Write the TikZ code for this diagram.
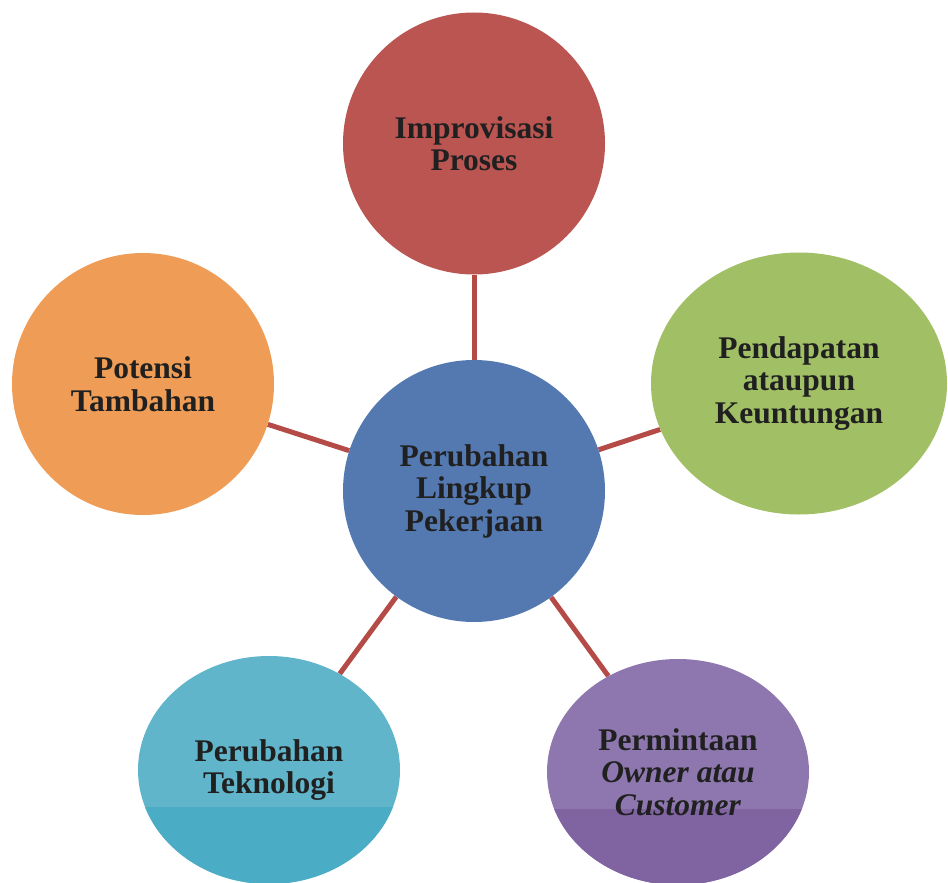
\documentclass[tikz,border=0pt]{standalone}
\usepackage{fontspec}
\setmainfont{Liberation Serif}
\usetikzlibrary{shapes.geometric,backgrounds}
\definecolor{cred}{HTML}{BA5551}
\definecolor{corange}{HTML}{EF9D56}
\definecolor{cgreen}{HTML}{A1BF65}
\definecolor{cblue}{HTML}{5479B1}
\definecolor{ctealup}{HTML}{60B5CA}
\definecolor{cteal}{HTML}{4BACC6}
\definecolor{cpurpup}{HTML}{8D77AE}
\definecolor{cpurp}{HTML}{8064A2}
\definecolor{cline}{HTML}{B44B47}
\definecolor{ctext}{HTML}{202020}
\tikzset{
  bubble/.style={ellipse, inner sep=0pt, minimum width=262pt, minimum height=262pt,
    align=center, text=ctext, font=\fontsize{31.5}{32.5}\selectfont\bfseries},
  conn/.style={draw=cline, line width=5pt},
  lowerfill/.style={path picture={\fill[#1] ([yshift=-37pt]path picture bounding box.west) rectangle (path picture bounding box.south east);}}
}
\begin{document}
\begin{tikzpicture}[x=1pt,y=-1pt]
\useasboundingbox (0,0) rectangle (948,883);
\clip (0,0) rectangle (948,883);
\node[bubble, fill=cred] (top) at (474,143.5) {Improvisasi\\Proses};
\node[bubble, fill=corange] (left) at (143,384) {Potensi\\Tambahan};
\node[bubble, fill=cgreen, minimum width=296pt] (right) at (799,383.5) {Pendapatan\\ataupun\\Keuntungan};
\node[bubble, fill=cblue] (center) at (474,491) {Perubahan\\Lingkup\\Pekerjaan};
\node[bubble, fill=ctealup, minimum height=228pt, lowerfill=cteal] (bl) at (269,770) {Perubahan\\Teknologi};
\node[bubble, fill=cpurpup, minimum height=226pt, lowerfill=cpurp] (br) at (678,772) {Permintaan\\\textit{Owner atau}\\\textit{Customer}};
\begin{scope}[on background layer]
\draw[conn] (center) -- (top);
\draw[conn] (center) -- (left);
\draw[conn] (center) -- (right);
\draw[conn] (center) -- (bl);
\draw[conn] (center) -- (br);
\end{scope}
\end{tikzpicture}
\end{document}
